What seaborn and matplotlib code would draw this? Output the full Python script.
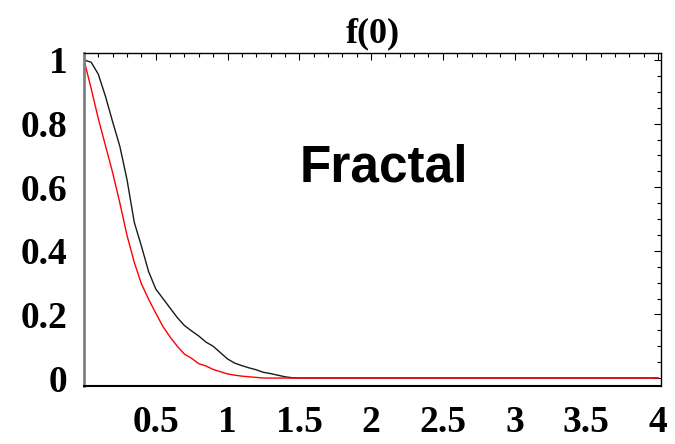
import matplotlib
matplotlib.use("Agg")
import matplotlib.pyplot as plt
import seaborn as sns
import pandas as pd
from matplotlib.ticker import MultipleLocator, FixedLocator

# ---- data ----
x_black = [0.0, 0.05, 0.1, 0.15, 0.2, 0.25, 0.3, 0.35, 0.4, 0.45, 0.5, 0.55, 0.6, 0.65,
           0.7, 0.75, 0.8, 0.85, 0.9, 0.95, 1.0, 1.05, 1.1, 1.15, 1.2, 1.25, 1.3, 1.35,
           1.4, 1.45, 1.5, 4.0]
y_black = [1.0, 0.993, 0.955, 0.885, 0.805, 0.728, 0.623, 0.49, 0.415, 0.335, 0.28, 0.25,
           0.22, 0.19, 0.165, 0.148, 0.132, 0.113, 0.10, 0.08, 0.06, 0.047, 0.039, 0.032,
           0.026, 0.018, 0.014, 0.009, 0.004, 0.001, 0.0, 0.0]
x_red = [0.0, 0.05, 0.1, 0.15, 0.2, 0.25, 0.3, 0.35, 0.4, 0.45, 0.5, 0.55, 0.6, 0.65,
         0.7, 0.75, 0.8, 0.85, 0.9, 0.95, 1.0, 1.05, 1.1, 1.15, 1.2, 1.25, 4.0]
y_red = [1.0, 0.91, 0.815, 0.73, 0.645, 0.55, 0.448, 0.364, 0.296, 0.248, 0.204, 0.162,
         0.129, 0.10, 0.075, 0.062, 0.045, 0.038, 0.027, 0.02, 0.013, 0.009, 0.006, 0.004,
         0.002, 0.0, 0.0]
x_ticks = [0.5, 1.0, 1.5, 2.0, 2.5, 3.0, 3.5, 4.0]
x_labels = ["0.5", "1", "1.5", "2", "2.5", "3", "3.5", "4"]
y_ticks = [0.0, 0.2, 0.4, 0.6, 0.8, 1.0]
y_labels = ["0", "0.2", "0.4", "0.6", "0.8", "1"]
title = "f(0)"
annotation = "Fractal"

df_black = pd.DataFrame({"x": x_black, "y": y_black})
df_red = pd.DataFrame({"x": x_red, "y": y_red})

sns.set_theme(style="white")
plt.rcParams["font.family"] = ["Liberation Serif", "DejaVu Serif"]
plt.rcParams["text.color"] = "black"
plt.rcParams["xtick.color"] = "black"
plt.rcParams["ytick.color"] = "black"
plt.rcParams["xtick.labelcolor"] = "black"
plt.rcParams["ytick.labelcolor"] = "black"

fig = plt.figure(figsize=(6.75, 4.44), dpi=100)
ax = fig.add_axes([84 / 675, 1 - 386 / 444, (661 - 84) / 675, (386 - 53) / 444])

sns.lineplot(data=df_black, x="x", y="y", color="#1a1a1a", linewidth=1.0, ax=ax,
             sort=False, estimator=None)
sns.lineplot(data=df_red, x="x", y="y", color="#ff0000", linewidth=1.0, ax=ax,
             sort=False, estimator=None)

ax.set_xlim(0, 4.02)
ax.set_ylim(-0.025, 1.022)
ax.set_xlabel("")
ax.set_ylabel("")

ax.xaxis.set_major_locator(FixedLocator(x_ticks))
ax.set_xticklabels(x_labels)
ax.xaxis.set_minor_locator(MultipleLocator(0.1))
ax.yaxis.set_major_locator(FixedLocator(y_ticks))
ax.set_yticklabels(y_labels)
ax.yaxis.set_minor_locator(MultipleLocator(0.05))

ax.tick_params(axis="both", which="both", direction="in", top=True, right=True,
               color="black", labelcolor="black", width=0.8)
ax.tick_params(axis="both", which="major", length=5)
ax.tick_params(axis="both", which="minor", length=3)
ax.tick_params(axis="x", which="major", labelsize=27, pad=14)
ax.tick_params(axis="y", which="major", labelsize=27, pad=12)
for lab in ax.get_xticklabels() + ax.get_yticklabels():
    lab.set_fontweight("bold")
    lab.set_color("black")

for side in ["top", "right", "bottom"]:
    ax.spines[side].set_visible(True)
    ax.spines[side].set_color("black")
    ax.spines[side].set_linewidth(1.0)
ax.spines["bottom"].set_linewidth(1.5)
ax.spines["left"].set_visible(True)
ax.spines["left"].set_color("#808080")
ax.spines["left"].set_linewidth(2.0)

ax.set_title(title, fontsize=26, fontweight="bold", pad=8, color="black")

ax.text(2.09, 0.617, annotation, ha="center", va="baseline", fontsize=37,
        fontweight="bold", color="black", family=["Liberation Sans", "DejaVu Sans"])

fig.savefig("out.png", dpi=100)
